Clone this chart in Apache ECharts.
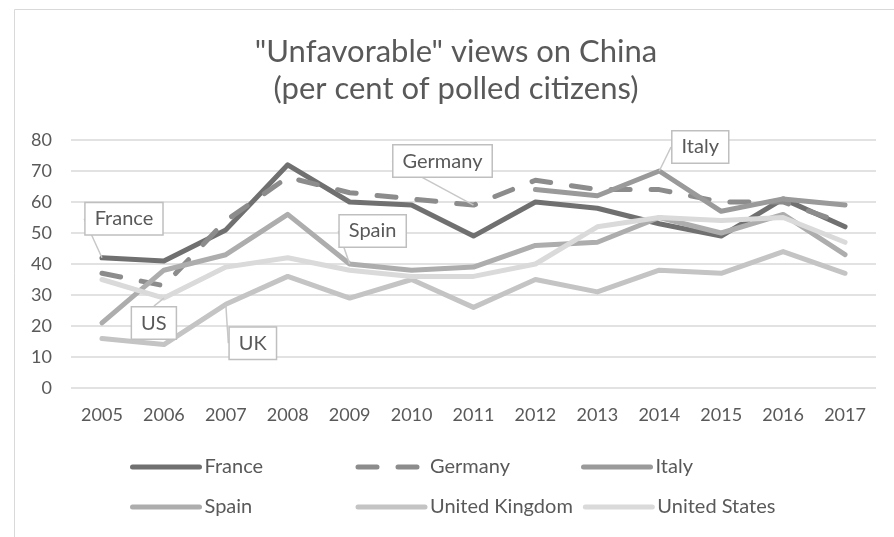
<!DOCTYPE html>
<html>
<head>
<meta charset="utf-8">
<script src="https://cdn.jsdelivr.net/npm/echarts@6/dist/echarts.min.js"></script>
<style>
  html, body { margin: 0; padding: 0; background: #fff; }
  #main { width: 894px; height: 537px; }
</style>
</head>
<body>
<div id="main"></div>
<script>
    // values
    const years = ['2005', '2006', '2007', '2008', '2009', '2010', '2011', '2012', '2013', '2014', '2015', '2016', '2017'];
    const countries = ['France', 'Germany', 'Italy', 'Spain', 'United Kingdom', 'United States'];
    const france = [42, 41, 51, 72, 60, 59, 49, 60, 58, 53, 49, 61, 52];
    const germany = [37, 33, 54, 68, 63, 61, 59, 67, 64, 64, 60, 60, 53];
    const italy = [null, null, null, null, null, null, null, 64, 62, 70, 57, 61, 59];
    const spain = [21, 38, 43, 56, 40, 38, 39, 46, 47, 55, 50, 56, 43];
    const uk = [16, 14, 27, 36, 29, 35, 26, 35, 31, 38, 37, 44, 37];
    const us = [35, 29, 39, 42, 38, 36, 36, 40, 52, 55, 54, 55, 47];
    const callouts = ['France', 'Germany', 'Italy', 'Spain', 'UK', 'US'];
    const yTicks = [0, 80, 10]; // min, max, step

    const FONT = 'Lato';
    const TXT = '#595959';

    // look of each line + where its callout sits
    const looks = [
        {color: '#707070', dash: 'solid', at: 0, dx: 22, dy: -39},
        {color: '#8c8c8c', dash: [19, 21], at: 6, dx: -31, dy: -44},
        {color: '#9a9a9a', dash: 'solid', at: 9, dx: 41, dy: -24},
        {color: '#adadad', dash: 'solid', at: 4, dx: 23, dy: -33},
        {color: '#c4c4c4', dash: 'solid', at: 2, dx: 27, dy: 39},
        {color: '#dadada', dash: 'solid', at: 1, dx: -10, dy: 25}
    ];
    const values = [france, germany, italy, spain, uk, us];

    let series = [];
    for (let i = 0; i < values.length; i++) {
        const lk = looks[i];
        const data = values[i].map(function (v, j) {
            if (j !== lk.at) return v;
            return {
                value: v,
                label: {
                    show: true,
                    formatter: callouts[i]
                }
            };
        });
        series.push({
            name: countries[i],
            type: 'line',
            data: data,
            symbol: 'circle',
            symbolSize: 0,
            showSymbol: true,
            connectNulls: false,
            z: 2 + i,
            lineStyle: {
                color: lk.color,
                width: 5,
                type: lk.dash,
                cap: 'round',
                join: 'round'
            },
            itemStyle: {color: lk.color},
            label: {
                show: false,
                position: 'inside',
                fontFamily: FONT,
                fontSize: 20,
                color: TXT,
                backgroundColor: '#fff',
                borderColor: '#bfbfbf',
                borderWidth: 1.5,
                padding: [6, 9, 5, 9]
            },
            labelLayout: {dx: lk.dx, dy: lk.dy},
            labelLine: {
                show: true,
                lineStyle: {color: '#c8c8c8', width: 1.5}
            },
            emphasis: {disabled: true}
        });
    }

    let myChart = echarts.init(document.getElementById('main'));
    myChart.setOption({
        animation: false,
        backgroundColor: '#fff',
        title: {
            text: '"Unfavorable" views on China\n(per cent of polled citizens)',
            left: 456,
            top: 33,
            padding: 0,
            textAlign: 'center',
            textStyle: {
                fontFamily: FONT,
                fontSize: 31,
                fontWeight: 'normal',
                lineHeight: 37,
                color: TXT
            }
        },
        graphic: [{
            type: 'rect',
            left: 12,
            top: 7,
            silent: true,
            shape: {width: 900, height: 540},
            style: {fill: 'none', stroke: '#d9d9d9', lineWidth: 1}
        }],
        legend: {
            data: countries,
            left: 130,
            top: 452,
            width: 700,
            padding: 0,
            itemGap: 10,
            itemWidth: 67,
            itemHeight: 14,
            itemStyle: {opacity: 0},
            lineStyle: {width: 5, cap: 'round'},
            textStyle: {
                fontFamily: FONT,
                fontSize: 20,
                color: TXT,
                width: 141,
                lineHeight: 30
            }
        },
        grid: {
            left: 71,
            right: 18,
            top: 140,
            bottom: 149,
            containLabel: false
        },
        xAxis: {
            type: 'category',
            data: years,
            boundaryGap: true,
            axisLine: {show: false},
            axisTick: {show: false},
            axisLabel: {
                margin: 18,
                fontFamily: FONT,
                fontSize: 18,
                color: TXT
            },
            splitLine: {show: false}
        },
        yAxis: {
            type: 'value',
            min: yTicks[0],
            max: yTicks[1],
            interval: yTicks[2],
            axisLine: {show: false},
            axisTick: {show: false},
            axisLabel: {
                margin: 19,
                fontFamily: FONT,
                fontSize: 18,
                color: TXT
            },
            splitLine: {
                lineStyle: {color: '#d9d9d9', width: 1.5}
            }
        },
        series: series
    });
</script>
</body>
</html>
